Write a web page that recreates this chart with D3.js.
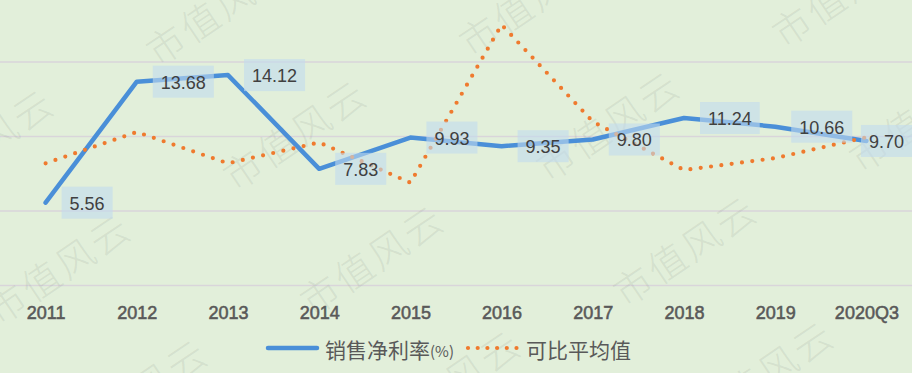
<!DOCTYPE html>
<html>
<head>
<meta charset="utf-8">
<script src="https://cdn.jsdelivr.net/npm/d3@7"></script>
<style>
  html, body { margin: 0; padding: 0; background: #e2efda; }
  svg { display: block; }
</style>
</head>
<body>
<svg id="chart" width="912" height="373"></svg>
<script>
const categories = ["2011","2012","2013","2014","2015","2016","2017","2018","2019","2020Q3"];
const netMargin = [5.56, 13.68, 14.12, 7.83, 9.93, 9.35, 9.80, 11.24, 10.66, 9.70];
const peerAverage = [8.2, 10.3, 8.2, 9.6, 6.9, 17.5, 11.0, 7.75, 8.55, 9.95];
const yTicks = [0, 5, 10, 15, 20];
const seriesNames = ["销售净利率", "可比平均值"];
const watermarkText = "市值风云";

const W = 912, H = 373;
const svg = d3.select("#chart");

svg.append("rect").attr("width", W).attr("height", H).attr("fill", "#e2efda");

const x = d3.scalePoint().domain(categories).range([0, W]).padding(0.5);
const y = d3.scaleLinear().domain([0, 20]).range([285.5, -12.5]);

// gridlines
svg.append("g").selectAll("line").data(yTicks).join("line")
  .attr("x1", 0).attr("x2", W)
  .attr("y1", d => y(d)).attr("y2", d => y(d))
  .attr("stroke", "#d9d5da").attr("stroke-width", 1.5);

// watermarks (background pattern of the source image)
const wm = svg.append("g");
const ax = 313, ay = -9, bx = 77, by = 125, ox = 217, oy = 8;
for (let j = -1; j <= 4; j++) {
  for (let i = -2; i <= 4; i++) {
    const cx = ox + i * ax + j * bx, cy = oy + i * ay + j * by;
    if (cx < -120 || cx > W + 120 || cy < -80 || cy > H + 80) continue;
    wm.append("text")
      .attr("transform", `translate(${cx},${cy}) rotate(-34)`)
      .attr("text-anchor", "middle").attr("dominant-baseline", "central")
      .attr("font-family", "Noto Sans CJK SC").attr("font-weight", 300)
      .attr("font-size", 38).attr("letter-spacing", 3)
      .attr("fill", "#8f9a8f").attr("fill-opacity", 0.18)
      .text(watermarkText);
  }
}

// x axis labels
const xAxis = d3.axisBottom(x).tickSize(0).tickPadding(0);
const gx = svg.append("g").attr("transform", "translate(0,313)").call(xAxis);
gx.select(".domain").remove();
gx.selectAll("text")
  .attr("dy", null).attr("y", 0)
  .attr("dominant-baseline", "central")
  .attr("font-family", "Liberation Sans, Arial, sans-serif")
  .attr("font-size", 18).attr("font-weight", "normal")
  .attr("fill", "#595959").attr("stroke", "#595959").attr("stroke-width", 0.55);

// lines
const line = d3.line().x((d, i) => x(categories[i])).y(d => y(d));
svg.append("path").datum(netMargin).attr("d", line)
  .attr("fill", "none").attr("stroke", "#4a8fd8").attr("stroke-width", 4.5)
  .attr("stroke-linejoin", "round").attr("stroke-linecap", "round");
svg.append("path").datum(peerAverage).attr("d", line)
  .attr("fill", "none").attr("stroke", "#ef7a2e").attr("stroke-width", 4.2)
  .attr("stroke-dasharray", "0 10.4").attr("stroke-linecap", "round");

// data labels
const lbl = svg.append("g");
netMargin.forEach((v, i) => {
  const t = v.toFixed(2);
  const px = x(categories[i]), py = y(v);
  const g = lbl.append("g");
  const txt = g.append("text")
    .attr("font-family", "Liberation Sans, Arial, sans-serif")
    .attr("font-size", 18).attr("fill", "#404040")
    .attr("dominant-baseline", "central").attr("text-anchor", "middle")
    .text(t);
  const tw = txt.node().getComputedTextLength();
  const bw = tw + 16, bh = 32;
  let bx0 = px + 16;
  if (bx0 + bw > W) bx0 = W - bw;
  g.insert("rect", "text")
    .attr("x", bx0).attr("y", py - bh / 2).attr("width", bw).attr("height", bh)
    .attr("fill", "#c2dbee").attr("fill-opacity", 0.6);
  txt.attr("x", bx0 + bw / 2).attr("y", py + 1);
});

// legend
const leg = svg.append("g");
leg.append("line").attr("x1", 268).attr("x2", 317).attr("y1", 348).attr("y2", 348)
  .attr("stroke", "#4a8fd8").attr("stroke-width", 4.5).attr("stroke-linecap", "round");
leg.append("text").attr("x", 325).attr("y", 349)
  .attr("dominant-baseline", "central")
  .attr("font-family", "Noto Sans CJK SC").attr("font-size", 21).attr("fill", "#595959")
  .text(seriesNames[0])
  .append("tspan").attr("font-size", 15).attr("dy", 1).text("(%)");
leg.append("line").attr("x1", 468).attr("x2", 517).attr("y1", 348).attr("y2", 348)
  .attr("stroke", "#ef7a2e").attr("stroke-width", 4.2)
  .attr("stroke-dasharray", "0 9.7").attr("stroke-linecap", "round");
leg.append("text").attr("x", 526).attr("y", 349)
  .attr("dominant-baseline", "central")
  .attr("font-family", "Noto Sans CJK SC").attr("font-size", 21).attr("fill", "#595959")
  .text(seriesNames[1]);
</script>
</body>
</html>
